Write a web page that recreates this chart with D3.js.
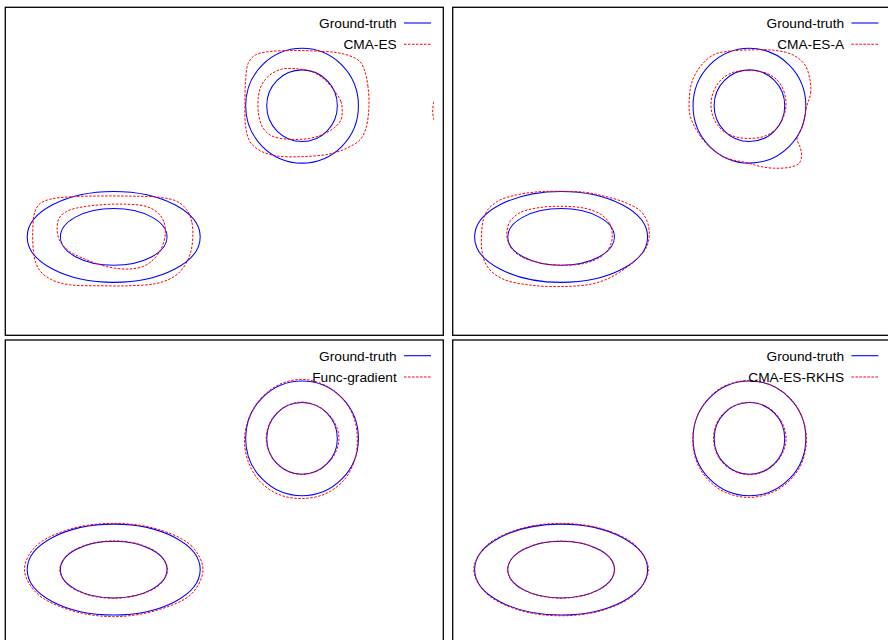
<!DOCTYPE html>
<html>
<head>
<meta charset="utf-8">
<script src="https://cdn.jsdelivr.net/npm/d3@7"></script>
<style>
  body { margin: 0; background: #fff; }
  svg { display: block; }
  text { font-family: "Liberation Sans", Arial, Helvetica, sans-serif; }
</style>
</head>
<body>
<svg id="chart" width="888" height="640"></svg>
<script>
// ---- data -------------------------------------------------------------
const methods = ["CMA-ES", "CMA-ES-A", "Func-gradient", "CMA-ES-RKHS"];
const truthLabel = "Ground-truth";
const xDomain = [-4, 4];
const yDomain = [-3, 3];

// ground-truth density contours: [cx, cy, rx, ry]
const truthContours = [
  [1.42, 1.2, 1.03, 1.05],
  [1.42, 1.2, 0.645, 0.655],
  [-2.02, -1.2, 1.58, 0.832],
  [-2.02, -1.2, 0.974, 0.518]
];

// CMA-ES estimated contours
const cmaesUpperOuter = [
  [2.642,1.184],[2.624,1.549],[2.569,1.824],[2.478,2.007],[2.295,2.111],[2.052,2.171],
  [1.625,2.202],[1.199,2.208],[0.773,2.184],[0.560,2.124],[0.437,1.977],[0.390,1.672],
  [0.377,1.246],[0.390,0.818],[0.468,0.543],[0.651,0.379],[0.956,0.282],[1.442,0.269],
  [1.930,0.318],[2.235,0.423],[2.478,0.574],[2.587,0.788]
];
const cmaesUpperInner = [
  [2.154,1.092],[2.131,1.275],[2.021,1.458],[1.838,1.672],[1.625,1.813],[1.351,1.873],
  [1.047,1.868],[0.834,1.763],[0.682,1.580],[0.620,1.337],[0.633,1.001],[0.711,0.788],
  [0.865,0.648],[1.168,0.587],[1.533,0.598],[1.807,0.679],[2.021,0.807],[2.131,0.940]
];
const cmaesLowerOuter = [
  [-0.575,-1.198],[-0.594,-0.924],[-0.685,-0.704],[-0.867,-0.549],[-1.178,-0.476],[-1.726,-0.454],
  [-2.274,-0.452],[-2.822,-0.467],[-3.187,-0.512],[-3.370,-0.595],[-3.461,-0.741],[-3.498,-1.070],
  [-3.488,-1.436],[-3.443,-1.674],[-3.352,-1.838],[-3.151,-1.985],[-2.822,-2.076],[-2.274,-2.094],
  [-1.726,-2.094],[-1.269,-2.058],[-1.032,-1.985],[-0.849,-1.875],[-0.703,-1.692],[-0.612,-1.473]
];
const cmaesLowerInner = [
  [-1.078,-1.143],[-1.105,-0.918],[-1.209,-0.765],[-1.421,-0.644],[-1.909,-0.600],[-2.396,-0.626],
  [-2.699,-0.673],[-2.882,-0.735],[-3.017,-0.856],[-3.054,-1.034],[-3.032,-1.202],[-2.973,-1.326],
  [-2.822,-1.467],[-2.517,-1.619],[-2.152,-1.741],[-1.786,-1.789],[-1.483,-1.741],[-1.300,-1.619],
  [-1.147,-1.405]
];
// fragment of a spurious CMA-ES contour at the right edge
const cmaesEdgeArc = [[3.825,1.273],[3.806,1.103],[3.825,0.939]];

// CMA-ES-A estimated contours
const cmaesAUpperOuter = [
  [2.465,1.184],[2.538,1.429],[2.525,1.672],[2.434,1.946],[2.215,2.129],[1.886,2.212],
  [1.429,2.221],[1.009,2.193],[0.759,2.129],[0.516,1.910],[0.370,1.635],[0.320,1.306],
  [0.333,1.032],[0.452,0.757],[0.653,0.483],[0.954,0.263],[1.420,0.145],[1.612,0.090],
  [1.855,0.057],[2.160,0.075],[2.330,0.148],[2.373,0.300],[2.342,0.452],[2.288,0.593],
  [2.379,0.794]
];
const cmaesAUpperInner = [
  [2.087,1.196],[2.059,1.434],[1.950,1.644],[1.740,1.791],[1.429,1.846],[1.119,1.809],
  [0.899,1.672],[0.762,1.452],[0.717,1.196],[0.772,0.959],[0.918,0.757],[1.173,0.629],
  [1.429,0.602],[1.685,0.638],[1.886,0.757],[2.023,0.949]
];
const cmaesALowerOuter = [
  [-0.409,-1.162],[-0.446,-0.924],[-0.564,-0.732],[-0.838,-0.576],[-1.222,-0.457],[-1.587,-0.384],
  [-2.044,-0.366],[-2.446,-0.375],[-2.866,-0.439],[-3.167,-0.540],[-3.359,-0.704],[-3.441,-0.887],
  [-3.474,-1.162],[-3.468,-1.436],[-3.414,-1.655],[-3.286,-1.838],[-3.048,-1.985],[-2.561,-2.085],
  [-1.952,-2.107],[-1.465,-2.063],[-1.149,-1.957],[-0.857,-1.783],[-0.619,-1.591],[-0.464,-1.399]
];
const cmaesALowerInner = [
  [-1.085,-1.180],[-1.131,-0.960],[-1.295,-0.787],[-1.587,-0.677],[-2.025,-0.640],[-2.446,-0.668],
  [-2.774,-0.759],[-2.957,-0.924],[-3.012,-1.143],[-2.957,-1.363],[-2.774,-1.546],[-2.409,-1.674],
  [-2.007,-1.719],[-1.587,-1.683],[-1.295,-1.564],[-1.131,-1.381]
];

// Func-gradient estimated contours
const funcUpperOuter = [
  [2.430,1.200],[2.362,1.591],[2.155,1.935],[1.826,2.179],[1.420,2.280],[1.010,2.189],
  [0.678,1.942],[0.459,1.598],[0.370,1.200],[0.431,0.790],[0.642,0.422],[0.995,0.174],
  [1.420,0.100],[1.841,0.184],[2.184,0.436],[2.381,0.802]
];
const funcUpperInner = [
  [2.095,1.200],[1.992,1.530],[1.748,1.767],[1.420,1.865],[1.090,1.772],[0.853,1.528],
  [0.765,1.200],[0.857,0.875],[1.092,0.633],[1.420,0.540],[1.748,0.633],[1.992,0.870]
];
const funcLowerOuter = [
  [-0.390,-1.200],[-0.590,-0.775],[-1.205,-0.464],[-2.020,-0.355],[-2.835,-0.464],[-3.450,-0.780],
  [-3.650,-1.200],[-3.432,-1.625],[-2.835,-1.936],[-2.020,-2.060],[-1.205,-1.936],[-0.595,-1.640]
];
const funcLowerInner = [
  [-1.035,-1.200],[-1.167,-0.937],[-1.527,-0.745],[-2.020,-0.675],[-2.513,-0.745],[-2.873,-0.937],
  [-3.005,-1.200],[-2.873,-1.463],[-2.513,-1.655],[-2.020,-1.725],[-1.527,-1.655],[-1.167,-1.463]
];

// CMA-ES-RKHS estimated contours
const rkhsUpperOuter = [
  [2.460,1.200],[2.321,1.720],[1.945,2.109],[1.420,2.260],[0.890,2.118],[0.519,1.720],
  [0.385,1.200],[0.502,0.670],[0.880,0.265],[1.420,0.120],[1.955,0.273],[2.338,0.670]
];
const rkhsUpperInner = [
  [2.090,1.200],[1.992,1.530],[1.750,1.772],[1.420,1.862],[1.090,1.772],[0.848,1.530],
  [0.765,1.200],[0.848,0.870],[1.090,0.628],[1.420,0.535],[1.750,0.628],[1.992,0.870]
];
const rkhsLowerOuter = [
  [-0.425,-1.200],[-0.639,-0.778],[-1.222,-0.468],[-2.020,-0.355],[-2.818,-0.468],[-3.401,-0.778],
  [-3.615,-1.200],[-3.401,-1.622],[-2.818,-1.932],[-2.020,-2.045],[-1.222,-1.932],[-0.639,-1.622]
];
const rkhsLowerInner = [
  [-1.040,-1.200],[-1.171,-0.939],[-1.530,-0.748],[-2.020,-0.678],[-2.510,-0.748],[-2.869,-0.939],
  [-3.000,-1.200],[-2.869,-1.461],[-2.510,-1.652],[-2.020,-1.722],[-1.530,-1.652],[-1.171,-1.461]
];

const estimates = [
  { closed: [cmaesUpperOuter, cmaesUpperInner, cmaesLowerOuter, cmaesLowerInner], open: [cmaesEdgeArc] },
  { closed: [cmaesAUpperOuter, cmaesAUpperInner, cmaesALowerOuter, cmaesALowerInner], open: [] },
  { closed: [funcUpperOuter, funcUpperInner, funcLowerOuter, funcLowerInner], open: [] },
  { closed: [rkhsUpperOuter, rkhsUpperInner, rkhsLowerOuter, rkhsLowerInner], open: [] }
];

// ---- layout -----------------------------------------------------------
const pw = 438, ph = 328;
const origins = [[5.3, 7.3], [452.7, 7.3], [5.3, 340], [452.7, 340]];
const truthColor = "#0000ff", estColor = "#ff0000";
const dash = "2.5,1.5";

const svg = d3.select("#chart");
const x = d3.scaleLinear().domain(xDomain).range([0, pw]);
const y = d3.scaleLinear().domain(yDomain).range([ph, 0]);

const closedLine = d3.line().x(d => x(d[0])).y(d => y(d[1]))
  .curve(d3.curveCatmullRomClosed.alpha(0.5));
const openLine = d3.line().x(d => x(d[0])).y(d => y(d[1]))
  .curve(d3.curveCatmullRom.alpha(0.5));

const defs = svg.append("defs");
defs.append("clipPath").attr("id", "panel-clip")
  .append("rect").attr("width", pw).attr("height", ph);

methods.forEach((name, i) => {
  const g = svg.append("g").attr("transform", `translate(${origins[i][0]},${origins[i][1]})`);
  const plot = g.append("g").attr("clip-path", "url(#panel-clip)");

  plot.selectAll("ellipse.truth").data(truthContours).join("ellipse")
    .attr("class", "truth")
    .attr("cx", d => x(d[0]))
    .attr("cy", d => y(d[1]))
    .attr("rx", d => x(d[0] + d[2]) - x(d[0]))
    .attr("ry", d => y(d[1] - d[3]) - y(d[1]))
    .attr("fill", "none")
    .attr("stroke", truthColor)
    .attr("stroke-width", 1.05);

  plot.selectAll("path.est").data(estimates[i].closed).join("path")
    .attr("class", "est")
    .attr("d", closedLine)
    .attr("fill", "none")
    .attr("stroke", estColor)
    .attr("stroke-width", 1)
    .attr("stroke-dasharray", dash);

  plot.selectAll("path.est-open").data(estimates[i].open).join("path")
    .attr("class", "est-open")
    .attr("d", openLine)
    .attr("fill", "none")
    .attr("stroke", estColor)
    .attr("stroke-width", 1)
    .attr("stroke-dasharray", dash);

  // legend
  const legend = [
    { label: truthLabel, color: truthColor, dash: null, y: 15.7 },
    { label: name, color: estColor, dash: dash, y: 37 }
  ];
  const lg = g.append("g");
  lg.selectAll("line").data(legend).join("line")
    .attr("x1", 398.7).attr("x2", 425.7)
    .attr("y1", d => d.y).attr("y2", d => d.y)
    .attr("stroke", d => d.color)
    .attr("stroke-width", 1.1)
    .attr("stroke-dasharray", d => d.dash);
  lg.selectAll("text").data(legend).join("text")
    .attr("x", 391.4)
    .attr("y", d => d.y + 5)
    .attr("text-anchor", "end")
    .attr("font-size", "13.7px")
    .attr("fill", "#000")
    .text(d => d.label);

  g.append("rect")
    .attr("width", pw).attr("height", ph)
    .attr("fill", "none")
    .attr("stroke", "#000")
    .attr("stroke-width", 1.3);
});
</script>
</body>
</html>
